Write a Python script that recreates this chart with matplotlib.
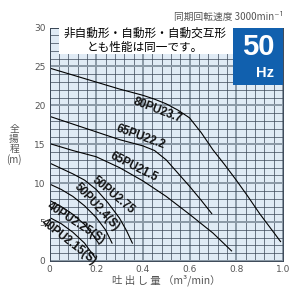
import matplotlib
matplotlib.use("Agg")
import matplotlib.pyplot as plt
from matplotlib.patches import Rectangle

plt.rcParams['font.family'] = ['Noto Sans CJK JP', 'DejaVu Sans']

# pump curves: discharge (m3/min) vs total head (m)
models = ['80PU23.7', '65PU22.2', '65PU21.5', '50PU2.75',
          '50PU2.4(S)', '40PU2.25(S)', '40PU2.15(S)']

q_80pu237 = [0, 0.1, 0.2, 0.3, 0.4, 0.45, 0.5, 0.55, 0.6, 0.65, 0.7, 0.75, 0.8, 0.85, 0.9, 0.95, 0.99]
h_80pu237 = [24.8, 23.9, 23.0, 22.1, 21.3, 20.8, 20.2, 19.4, 18.4, 16.5, 14.3, 12.4, 10.4, 8.3, 6.1, 4.1, 2.5]

q_65pu222 = [0, 0.1, 0.2, 0.3, 0.4, 0.45, 0.5, 0.55, 0.6, 0.65, 0.695]
h_65pu222 = [18.6, 17.6, 16.6, 15.6, 14.8, 14.2, 13.0, 11.3, 9.6, 7.8, 6.1]

q_65pu215 = [0, 0.1, 0.2, 0.3, 0.4, 0.5, 0.6, 0.7, 0.78]
h_65pu215 = [15.1, 14.2, 13.4, 12.0, 10.3, 8.3, 6.0, 3.6, 1.3]

q_50pu275 = [0, 0.05, 0.1, 0.15, 0.2, 0.25, 0.3, 0.33, 0.355]
h_50pu275 = [12.6, 11.9, 11.2, 10.4, 9.2, 7.5, 5.5, 3.9, 2.3]

q_50pu24s = [0, 0.05, 0.1, 0.15, 0.2, 0.24, 0.268]
h_50pu24s = [9.9, 9.2, 8.3, 7.1, 5.6, 4.0, 2.3]

q_40pu225s = [0, 0.05, 0.1, 0.15, 0.18, 0.21]
h_40pu225s = [7.8, 7.0, 6.0, 4.7, 3.6, 2.3]

q_40pu215s = [0, 0.05, 0.1, 0.15, 0.196]
h_40pu215s = [5.6, 4.8, 3.7, 2.3, 0.4]

x_ticks = [0, 0.2, 0.4, 0.6, 0.8, 1.0]
x_tick_labels = ['0', '0.2', '0.4', '0.6', '0.8', '1.0']
y_ticks = [0, 5, 10, 15, 20, 25, 30]

curves = [(q_80pu237, h_80pu237), (q_65pu222, h_65pu222), (q_65pu215, h_65pu215),
          (q_50pu275, h_50pu275), (q_50pu24s, h_50pu24s),
          (q_40pu225s, h_40pu225s), (q_40pu215s, h_40pu215s)]

# where each curve name sits (x, y, rotation)
label_pos = [(0.462, 19.3, -21), (0.39, 15.9, -20), (0.36, 12.1, -27),
             (0.275, 8.5, -40), (0.2, 6.9, -47), (0.115, 4.8, -33),
             (0.085, 2.45, -38)]

fig = plt.figure(figsize=(3, 3), dpi=100)
ax = fig.add_axes([0.165, 0.13, 0.778, 0.778])
ax.set_facecolor('#e0ebf5')

ax.set_xlim(0, 1.0)
ax.set_ylim(0, 30)
ax.set_xticks(x_ticks)
ax.set_xticklabels(x_tick_labels)
ax.set_yticks(y_ticks)
ax.set_xticks([i * 0.04 for i in range(26)], minor=True)
ax.set_yticks(range(31), minor=True)
ax.tick_params(which='both', length=0, labelsize=6.5, labelcolor='#555555', pad=3)
for lbl in ax.get_xticklabels() + ax.get_yticklabels():
    lbl.set_family('DejaVu Sans')

ax.grid(which='minor', color='#3a4756', lw=0.5)
ax.grid(which='major', color='#8a98a5', lw=1.4)
ax.set_axisbelow(True)
for side in ['left', 'bottom', 'top', 'right']:
    ax.spines[side].set_color('#3a4756')
    ax.spines[side].set_linewidth(0.7)

for (q, h), name, (lx, ly, rot) in zip(curves, models, label_pos):
    ax.plot(q, h, color='black', lw=0.8)
    ax.text(lx, ly, name, rotation=rot, rotation_mode='anchor', ha='center', va='center',
            fontsize=8.3, fontweight='bold', family='Liberation Sans', color='#111111')

# white note box
ax.add_patch(Rectangle((0.04, 0.885), 0.745, 0.115, transform=ax.transAxes,
                       facecolor='white', edgecolor='none', zorder=3))
ax.text(0.41, 0.945, '非自動形・自動形・自動交互形\nとも性能は同一です。', transform=ax.transAxes,
        ha='center', va='center', fontsize=8.4, linespacing=1.05, zorder=4)

# 50 Hz badge
ax.add_patch(Rectangle((0.786, 0.754), 0.214, 0.246, transform=ax.transAxes,
                       facecolor='#1160ae', edgecolor='none', zorder=3))
ax.text(0.895, 0.915, '50', transform=ax.transAxes, ha='center', va='center',
        fontsize=21, fontweight='bold', family='Liberation Sans', color='white', zorder=4)
ax.text(0.925, 0.806, 'Hz', transform=ax.transAxes, ha='center', va='center',
        fontsize=10.5, fontweight='bold', family='Liberation Sans', color='white', zorder=4)

fig.text(0.943, 0.945, '同期回転速度 3000min⁻¹', ha='right', va='center',
         fontsize=7, color='#555555')

fig.text(0.047, 0.517, '全\n揚\n程\n(m)', ha='center', va='center',
         fontsize=7, color='#555555', linespacing=1.0)
fig.text(0.555, 0.066, '吐 出 し 量 （m³/min）', ha='center', va='center',
         fontsize=7.5, color='#555555')

fig.savefig('out.png', dpi=100)
